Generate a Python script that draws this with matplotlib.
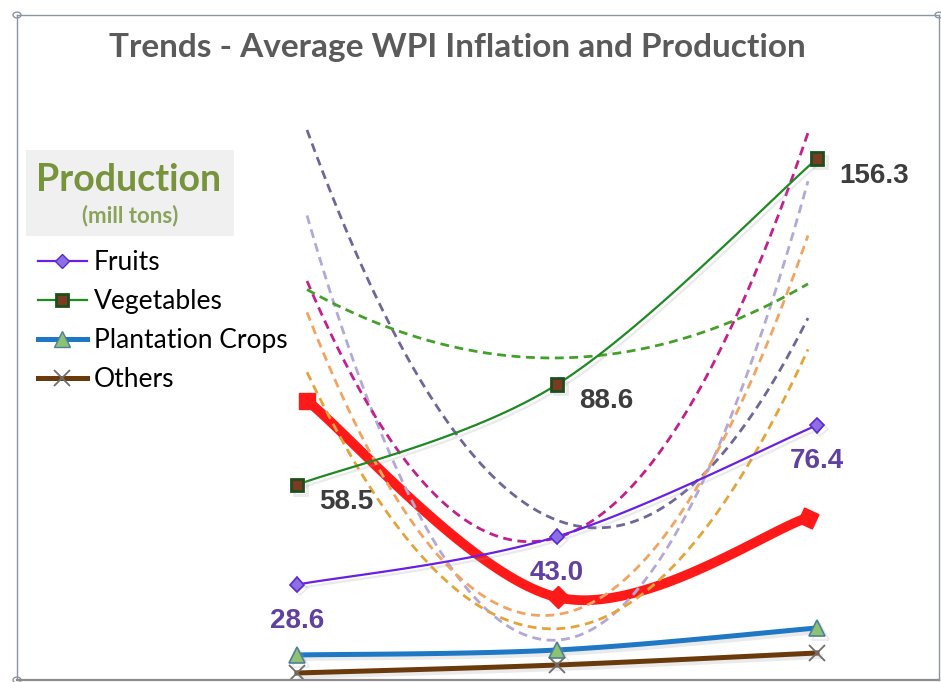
import numpy as np
import matplotlib
matplotlib.use("Agg")
import matplotlib.pyplot as plt
import matplotlib.patheffects as pe
from matplotlib.lines import Line2D
from matplotlib.patches import Rectangle, Circle

# Production (million tonnes) over three periods
fruits = [28.6, 43.0, 76.4]
vegetables = [58.5, 88.6, 156.3]
plantation_crops = [7.5, 9.0, 15.6]
others = [2.1, 4.5, 8.1]

# Average WPI inflation (%) on the secondary scale
avg_wpi = [9.8, 2.9, 5.7]

# WPI inflation (%) of sub-groups, shown only through quadratic trend lines
wpi_slate = [19.3, 5.6, 12.7]
wpi_lavender = [16.3, 1.4, 17.5]
wpi_magenta = [14.0, 5.0, 19.2]
wpi_orange = [12.9, 2.3, 15.6]
wpi_amber = [10.8, 1.8, 11.6]
wpi_green = [13.7, 11.3, 13.9]

legend_labels = ["Fruits", "Vegetables", "Plantation Crops", "Others"]
title = "Trends - Average WPI Inflation and Production"

W, H = 941, 682
fig = plt.figure(figsize=(W / 100, H / 100), dpi=100)
fig.patch.set_facecolor("white")


def px_rect(x0, y0, x1, y1):
    return [x0 / W, 1 - y1 / H, (x1 - x0) / W, (y1 - y0) / H]


def smooth(xs, ys, n=60):
    """Bezier smoothing through the points (Excel-style smoothed line)."""
    p = np.column_stack([np.asarray(xs, float), np.asarray(ys, float)])
    t = np.linspace(0, 1, n)[:, None]
    segs = []
    for i in range(len(p) - 1):
        p0 = p[max(i - 1, 0)]
        p1 = p[i]
        p2 = p[i + 1]
        p3 = p[min(i + 2, len(p) - 1)]
        c1 = p1 + (p2 - p0) / 6
        c2 = p2 - (p3 - p1) / 6
        b = ((1 - t) ** 3) * p1 + 3 * ((1 - t) ** 2) * t * c1 + 3 * (1 - t) * t ** 2 * c2 + t ** 3 * p2
        segs.append(b if i == 0 else b[1:])
    b = np.vstack(segs)
    return b[:, 0], b[:, 1]


shadow = [pe.SimpleLineShadow(offset=(2.5, -2.5), shadow_color="#a0a0a0", alpha=0.22), pe.Normal()]

plot_rect = px_rect(270, 110, 845, 680)

# secondary (inflation) axes, drawn underneath
ax2 = fig.add_axes(plot_rect, frameon=False)
ax2.set_xlim(-0.1477, 2.1477)
ax2.set_ylim(0, 20)
ax2.axis("off")

# primary (production) axes on top
ax = fig.add_axes(plot_rect, frameon=False)
ax.set_xlim(-0.1038, 2.1077)
ax.set_ylim(0, 170.9)
ax.axis("off")
ax.patch.set_alpha(0)

xs = np.arange(len(fruits))

# Average WPI inflation - thick red smoothed line
sx, sy = smooth(xs, avg_wpi)
ax2.plot(sx, sy, color="#ff1a1a", lw=7, solid_capstyle="round", zorder=2)
for xi, yi, ang in zip(xs, avg_wpi, [45, 0, 20]):
    ax2.plot([xi], [yi], marker=(4, 0, ang), ms=16, color="#ff1a1a", mec="#ff1a1a", zorder=2)

# quadratic trend lines of the sub-group inflation series
trend_styles = [
    (wpi_slate, "#6f6699"),
    (wpi_lavender, "#b4a8d4"),
    (wpi_magenta, "#c2208e"),
    (wpi_orange, "#f2a463"),
    (wpi_amber, "#e5a43a"),
    (wpi_green, "#45a02a"),
]
tx = np.linspace(0, 2, 200)
for series, col in trend_styles:
    coef = np.polyfit(xs, series, 2)
    ax2.plot(tx, np.polyval(coef, tx), color=col, lw=2.0, ls=(0, (3.2, 2.0)), zorder=3)

# production series
fx, fy = smooth(xs, fruits)
ax.plot(fx, fy, color="#6a1fe6", lw=1.6, zorder=5, path_effects=shadow)
ax.plot(xs, fruits, ls="none", marker="D", ms=7.5, mfc="#8b6fe3", mec="#5a2ad0", mew=1.2,
        zorder=6, path_effects=shadow)

vx, vy = smooth(xs, vegetables)
ax.plot(vx, vy, color="#1d8a22", lw=1.6, zorder=5, path_effects=shadow)
ax.plot(xs, vegetables, ls="none", marker="s", ms=9, mfc="#7a3b22", mec="#1c4f1c", mew=2.0,
        zorder=6, path_effects=shadow)

px_, py_ = smooth(xs, plantation_crops)
ax.plot(px_, py_, color="#1f78c4", lw=3.6, zorder=5, path_effects=shadow)
ax.plot(xs, plantation_crops, ls="none", marker="^", ms=12, mfc="#8cc272", mec="#4f7f9c", mew=1.2,
        zorder=6, path_effects=shadow)

ox, oy = smooth(xs, others)
ax.plot(ox, oy, color="#6b3a0c", lw=3.6, zorder=5, path_effects=shadow)
ax.plot(xs, others, ls="none", marker="x", ms=12, mec="#6e6e6e", mew=1.3, zorder=6)

# data labels
for xi, v in zip(xs, fruits):
    ax.annotate(f"{v:.1f}", (xi, v), xytext=(0, -36), textcoords="offset pixels",
                ha="center", va="center", fontsize=20, fontweight="bold",
                color="#6040a0", family="Liberation Sans", zorder=7)
for xi, v in zip(xs, vegetables):
    ax.annotate(f"{v:.1f}", (xi, v), xytext=(22, -17), textcoords="offset pixels",
                ha="left", va="center", fontsize=20, fontweight="bold",
                color="#3d3d3d", family="Liberation Sans", zorder=7)

# title
fig.text(457 / W, 1 - 47 / H, title, ha="center", va="center", fontsize=24,
         fontweight="bold", color="#5a5a5a", family="Lato")

# legend header box
fig.add_artist(Rectangle((26 / W, 1 - 236 / H), (234 - 26) / W, (236 - 150) / H,
                         transform=fig.transFigure, facecolor="#f0f0f0", edgecolor="none"))
fig.text(129 / W, 1 - 180 / H, "Production", ha="center", va="center", fontsize=27,
         fontweight="bold", color="#77933c", family="Lato")
fig.text(130 / W, 1 - 216 / H, "(mill tons)", ha="center", va="center", fontsize=16,
         fontweight="bold", color="#8aa35a", family="Lato")

handles = [
    Line2D([], [], color="#6a1fe6", lw=1.6, marker="D", ms=7.5, mfc="#8b6fe3", mec="#5a2ad0"),
    Line2D([], [], color="#1d8a22", lw=1.6, marker="s", ms=9, mfc="#7a3b22", mec="#1c4f1c", mew=2.0),
    Line2D([], [], color="#1f78c4", lw=3.6, marker="^", ms=12, mfc="#8cc272", mec="#4f7f9c"),
    Line2D([], [], color="#6b3a0c", lw=3.6, marker="x", ms=12, mec="#6e6e6e", mew=1.3),
]
fig.legend(handles, legend_labels, loc="upper left", bbox_to_anchor=(38 / W, 1 - 250 / H),
           frameon=False, handlelength=1.85, handletextpad=0.26,
           labelspacing=0.53, borderpad=0, borderaxespad=0,
           prop={"family": "Lato", "size": 19})

# chart area outline with corner handles
border = "#8a96a3"
fig.add_artist(Line2D([17 / W, 939 / W], [1 - 15 / H, 1 - 15 / H], color=border, lw=1.0,
                      transform=fig.transFigure))
fig.add_artist(Line2D([17 / W, 17 / W], [1 - 15 / H, 1 - 680 / H], color=border, lw=1.0,
                      transform=fig.transFigure))
fig.add_artist(Line2D([17 / W, 939 / W], [1 - 680 / H, 1 - 680 / H], color="#8c8c8c", lw=1.6,
                      transform=fig.transFigure))
fig.add_artist(Line2D([939 / W, 939 / W], [1 - 15 / H, 1 - 680 / H], color=border, lw=1.0,
                      transform=fig.transFigure))
for cx, cy in [(17, 15), (939, 15), (17, 680)]:
    fig.add_artist(Circle((cx / W, 1 - cy / H), 4 / W, transform=fig.transFigure,
                          facecolor="white", edgecolor=border, lw=1.0))

fig.savefig("out.png", dpi=100)
